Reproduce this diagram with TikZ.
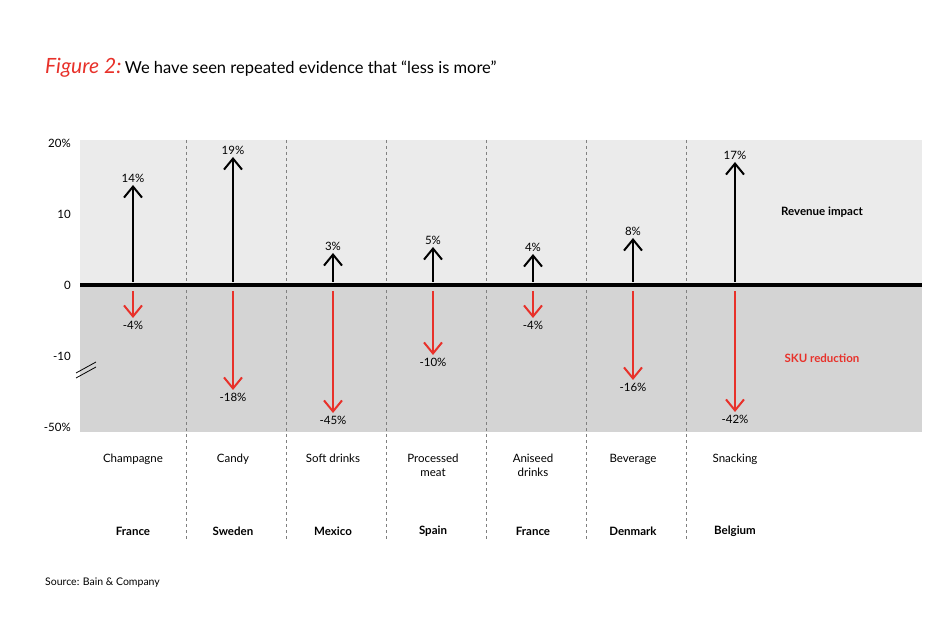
\documentclass[tikz,border=0pt]{standalone}
\usepackage{fontspec}
\setmainfont{Lato}
\usetikzlibrary{arrows.meta}
\definecolor{myred}{HTML}{E8312A}
\tikzset{
  up/.style={draw=black,line width=2pt,-{Straight Barb[length=11pt,width=18pt,line width=2pt]}},
  dn/.style={draw=myred,line width=2pt,-{Straight Barb[length=11pt,width=18pt,line width=2pt]}},
  lbl/.style={font=\fontsize{11.5}{14}\selectfont,inner sep=1pt},
  bl/.style={font=\fontsize{11.5}{14}\selectfont\bfseries,inner sep=1pt},
  sep/.style={draw=gray,dashed,line width=0.8pt},
}
\begin{document}
\begin{tikzpicture}[x=1pt,y=-1pt]
\fill[white] (0,0) rectangle (950,636);
\useasboundingbox (0,0) rectangle (950,636);
\fill[black!8] (80,140) rectangle (922,285);
\fill[black!17] (80,285) rectangle (922,432);
\node[anchor=west,inner sep=0] (t) at (45,68) {{\color{myred}\fontsize{21}{22}\selectfont\itshape Figure 2:} \fontsize{16.5}{18}\selectfont We have seen repeated evidence that “less is more”};
\foreach \x in {186,286,386,486,586,686}{\draw[sep] (\x,140) -- (\x,540);}
\draw[line width=4pt] (80,285) -- (922,285);
\foreach \y/\t in {143/20\%,214/10,285/0,356/-10,427/-50\%}{\node[lbl,anchor=east] at (72,\y) {\t};}
\draw[line width=0.8pt] (76,373) -- (96,362) (76,378) -- (96,367);
\foreach \x/\u/\ul/\d/\dl/\cat/\ctry in {
133/185/14\%/318/-4\%/Champagne/France,
233/157/19\%/390/-18\%/Candy/Sweden,
333/253/3\%/413/-45\%/Soft drinks/Mexico,
433/247/5\%/355/-10\%/{Processed\\meat}/Spain,
533/254/4\%/318/-4\%/{Aniseed\\drinks}/France,
633/238/8\%/380/-16\%/Beverage/Denmark,
735/162/17\%/412/-42\%/Snacking/Belgium}{
  \coordinate (ua) at (\x,282); \coordinate (ub) at (\x,\u);
  \draw[up] (ua) -- (ub);
  \node[lbl,anchor=south] at (\x,\u-1) {\ul};
  \coordinate (da) at (\x,291); \coordinate (db) at (\x,\d);
  \draw[dn] (da) -- (db);
  \node[lbl,anchor=north] at (\x,\d+2) {\dl};
  \node[lbl,anchor=north,align=center] at (\x,453) {\cat};
  \node[bl] at (\x,531) {\ctry};
}
\node[bl] (ri) at (822,212) {Revenue impact};
\node[bl,text=myred] (sr) at (822,358) {SKU reduction};
\node[anchor=west,font=\fontsize{10.5}{12}\selectfont,inner sep=0] (src) at (45,583) {Source: Bain \& Company};
\end{tikzpicture}
\end{document}
